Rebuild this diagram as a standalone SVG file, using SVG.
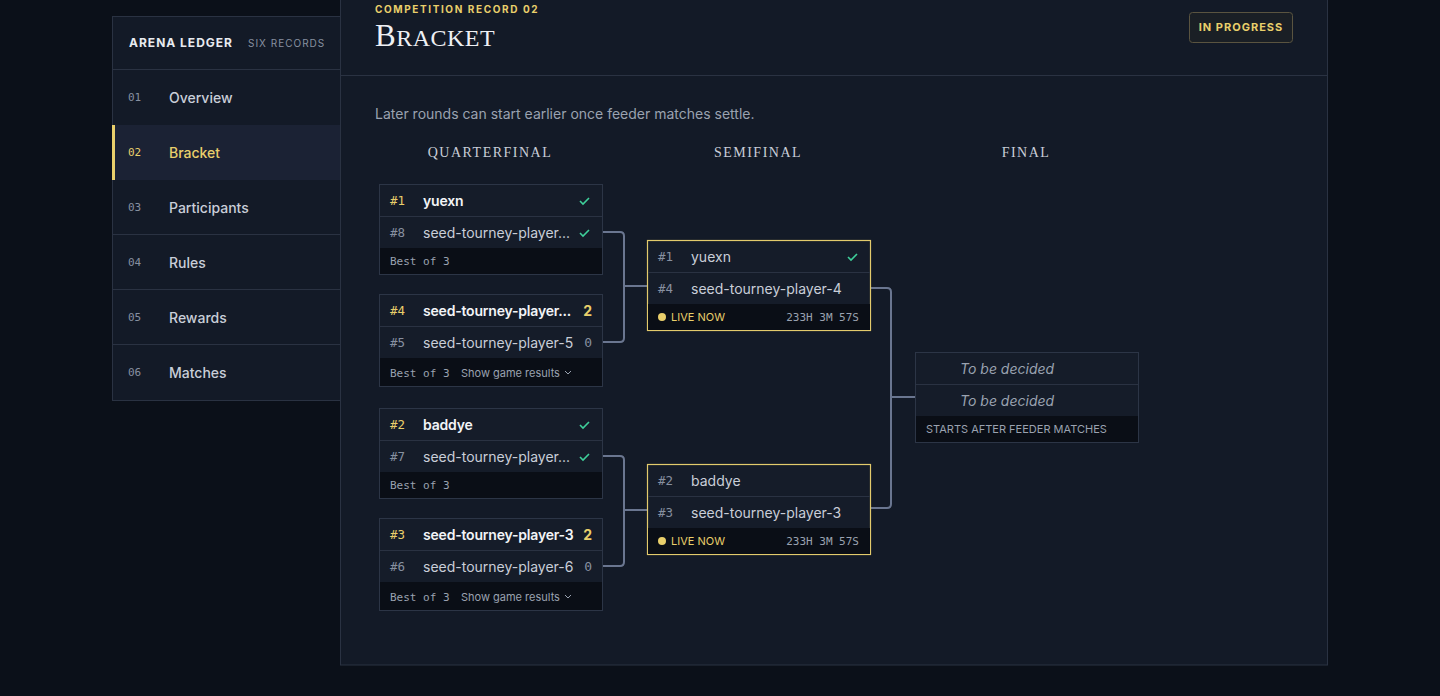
<svg xmlns="http://www.w3.org/2000/svg" width="1440" height="696" viewBox="0 0 1440 696">
<style>
.s{font-family:Inter,"Noto Sans",sans-serif}
.m{font-family:"DejaVu Sans Mono","Liberation Mono",monospace}
.r{font-family:"Liberation Serif",serif}
.card{fill:#151c29;stroke:#2c3546;stroke-width:1}
.sf{fill:#151c29;stroke:#e3cb6c;stroke-width:1.2}
.foot{fill:#0a0e16}
.div{stroke:#2a3242;stroke-width:1}
.seed{font-size:12.5px;fill:#8790a0}
.gold{fill:#e9cf6b}
.nm{font-size:14px;fill:#c9ced8}
.nmb{font-size:14px;fill:#f2f4f7;font-weight:600;letter-spacing:-0.2px}
.ft{font-size:11px;fill:#9aa2b0}
.chk{fill:none;stroke:#3ecf9a;stroke-width:1.6}
.con{fill:none;stroke:#6a7690;stroke-width:2}
.nav{font-size:14px;fill:#c9ced8;font-weight:500}
.num{font-size:11px;fill:#8790a0}
.rnd{font-size:14px;fill:#c9ced8;letter-spacing:1.5px}
</style>
<rect width="1440" height="696" fill="#0b1019"/>
<g id="sidebar">
<rect x="112.5" y="16.5" width="228" height="384" fill="#131a27" stroke="#2a3242"/>
<text x="129" y="47" class="s" font-size="12" font-weight="700" fill="#e8ebf0" letter-spacing="1">ARENA LEDGER</text>
<text x="248" y="47" class="s" font-size="10" fill="#8790a0" letter-spacing="1">SIX RECORDS</text>
<line x1="113" y1="69.5" x2="340" y2="69.5" class="div"/>
<rect x="113" y="125" width="227" height="55" fill="#1b2234"/>
<rect x="112" y="125" width="3" height="55" fill="#e9cf6b"/>
<line x1="113" y1="234.5" x2="340" y2="234.5" class="div"/>
<line x1="113" y1="289.5" x2="340" y2="289.5" class="div"/>
<line x1="113" y1="344.5" x2="340" y2="344.5" class="div"/>
<text x="128" y="101" class="m num">01</text><text x="169" y="103" class="s nav">Overview</text>
<text x="128" y="156" class="m num" style="fill:#e9cf6b">02</text><text x="169" y="158" class="s nav" style="fill:#e9cf6b">Bracket</text>
<text x="128" y="211" class="m num">03</text><text x="169" y="213" class="s nav">Participants</text>
<text x="128" y="266" class="m num">04</text><text x="169" y="268" class="s nav">Rules</text>
<text x="128" y="321" class="m num">05</text><text x="169" y="323" class="s nav">Rewards</text>
<text x="128" y="376" class="m num">06</text><text x="169" y="378" class="s nav">Matches</text>
</g>
<g id="main">
<rect x="340.5" y="-1" width="987" height="666" fill="#131a27" stroke="#2a3242"/>
<line x1="341" y1="75.5" x2="1327" y2="75.5" class="div"/>
<text x="375" y="13" class="s" font-size="10" font-weight="700" fill="#e9cf6b" letter-spacing="1.6">COMPETITION RECORD 02</text>
<text x="375" y="46" class="r" font-size="31" fill="#eef0f4" letter-spacing="0.5">B<tspan font-size="24">RACKET</tspan></text>
<rect x="1189.5" y="12.5" width="103" height="30" rx="3" fill="#1a1f25" stroke="#5a5440"/>
<text x="1241" y="31" class="s" font-size="11" font-weight="700" fill="#e9cf6b" letter-spacing="1" text-anchor="middle">IN PROGRESS</text>
<text x="375" y="119" class="s" font-size="14" fill="#9aa2b0">Later rounds can start earlier once feeder matches settle.</text>
<text x="490" y="157" class="r rnd" text-anchor="middle">QUARTERFINAL</text>
<text x="758" y="157" class="r rnd" text-anchor="middle">SEMIFINAL</text>
<text x="1026" y="157" class="r rnd" text-anchor="middle">FINAL</text>
</g>
<g id="connectors">
<path class="con" d="M602 232 H620 Q624 232 624 236 V338 Q624 342 620 342 H602"/>
<path class="con" d="M624 286 H647"/>
<path class="con" d="M602 456 H620 Q624 456 624 460 V562 Q624 566 620 566 H602"/>
<path class="con" d="M624 510 H647"/>
<path class="con" d="M870 288 H887 Q891 288 891 292 V504 Q891 508 887 508 H870"/>
<path class="con" d="M891 397 H915"/>
</g>
<g id="qf1">
<rect x="379.5" y="184.5" width="223" height="90" class="card"/>
<rect x="380" y="248" width="222" height="26" class="foot"/>
<line x1="380" y1="216.5" x2="602" y2="216.5" class="div"/>
<text x="390" y="205" class="m seed" style="fill:#e9cf6b">#1</text><text x="423" y="206" class="s nmb">yuexn</text>
<path class="chk" d="M580 201 l3 3 l6 -6"/>
<text x="390" y="237" class="m seed">#8</text><text x="423" y="238" class="s nm">seed-tourney-player...</text>
<path class="chk" d="M580 233 l3 3 l6 -6"/>
<text x="390" y="265" class="m ft">Best of 3</text>
</g>
<g id="qf2">
<rect x="379.5" y="294.5" width="223" height="92" class="card"/>
<rect x="380" y="358" width="222" height="28" class="foot"/>
<line x1="380" y1="326.5" x2="602" y2="326.5" class="div"/>
<text x="390" y="315" class="m seed" style="fill:#e9cf6b">#4</text><text x="423" y="316" class="s nmb">seed-tourney-player...</text>
<text x="592" y="316" class="s" font-size="14" font-weight="700" fill="#e9cf6b" text-anchor="end">2</text>
<text x="390" y="347" class="m seed">#5</text><text x="423" y="348" class="s nm">seed-tourney-player-5</text>
<text x="592" y="347" class="m" font-size="13" fill="#8790a0" text-anchor="end">0</text>
<text x="390" y="377" class="m ft">Best of 3</text>
<text x="461" y="377" class="s" font-size="11" fill="#9aa2b0">Show game results</text>
<path d="M565 371 l3 3 l3 -3" fill="none" stroke="#9aa2b0"/>
</g>
<g id="qf3">
<rect x="379.5" y="408.5" width="223" height="90" class="card"/>
<rect x="380" y="472" width="222" height="26" class="foot"/>
<line x1="380" y1="440.5" x2="602" y2="440.5" class="div"/>
<text x="390" y="429" class="m seed" style="fill:#e9cf6b">#2</text><text x="423" y="430" class="s nmb">baddye</text>
<path class="chk" d="M580 425 l3 3 l6 -6"/>
<text x="390" y="461" class="m seed">#7</text><text x="423" y="462" class="s nm">seed-tourney-player...</text>
<path class="chk" d="M580 457 l3 3 l6 -6"/>
<text x="390" y="489" class="m ft">Best of 3</text>
</g>
<g id="qf4">
<rect x="379.5" y="518.5" width="223" height="92" class="card"/>
<rect x="380" y="582" width="222" height="28" class="foot"/>
<line x1="380" y1="550.5" x2="602" y2="550.5" class="div"/>
<text x="390" y="539" class="m seed" style="fill:#e9cf6b">#3</text><text x="423" y="540" class="s nmb">seed-tourney-player-3</text>
<text x="592" y="540" class="s" font-size="14" font-weight="700" fill="#e9cf6b" text-anchor="end">2</text>
<text x="390" y="571" class="m seed">#6</text><text x="423" y="572" class="s nm">seed-tourney-player-6</text>
<text x="592" y="571" class="m" font-size="13" fill="#8790a0" text-anchor="end">0</text>
<text x="390" y="601" class="m ft">Best of 3</text>
<text x="461" y="601" class="s" font-size="11" fill="#9aa2b0">Show game results</text>
<path d="M565 595 l3 3 l3 -3" fill="none" stroke="#9aa2b0"/>
</g>
<g id="sf1">
<rect x="647.5" y="240.5" width="223" height="90" class="sf"/>
<rect x="648" y="304" width="222" height="26" class="foot"/>
<line x1="648" y1="272.5" x2="870" y2="272.5" class="div"/>
<text x="658" y="261" class="m seed">#1</text><text x="691" y="262" class="s nm">yuexn</text>
<path class="chk" d="M848 257 l3 3 l6 -6"/>
<text x="658" y="293" class="m seed">#4</text><text x="691" y="294" class="s nm">seed-tourney-player-4</text>
<circle cx="662" cy="317" r="4" fill="#e9cf6b"/>
<text x="671" y="321" class="s" font-size="11" fill="#e9cf6b">LIVE NOW</text>
<text x="859" y="321" class="m ft" text-anchor="end">233H 3M 57S</text>
</g>
<g id="sf2">
<rect x="647.5" y="464.5" width="223" height="90" class="sf"/>
<rect x="648" y="528" width="222" height="26" class="foot"/>
<line x1="648" y1="496.5" x2="870" y2="496.5" class="div"/>
<text x="658" y="485" class="m seed">#2</text><text x="691" y="486" class="s nm">baddye</text>
<text x="658" y="517" class="m seed">#3</text><text x="691" y="518" class="s nm">seed-tourney-player-3</text>
<circle cx="662" cy="541" r="4" fill="#e9cf6b"/>
<text x="671" y="545" class="s" font-size="11" fill="#e9cf6b">LIVE NOW</text>
<text x="859" y="545" class="m ft" text-anchor="end">233H 3M 57S</text>
</g>
<g id="final">
<rect x="915.5" y="352.5" width="223" height="90" class="card"/>
<rect x="916" y="416" width="222" height="26" class="foot"/>
<line x1="916" y1="384.5" x2="1138" y2="384.5" class="div"/>
<text x="960" y="374" class="s" font-size="14" font-style="italic" fill="#9aa2b0">To be decided</text>
<text x="960" y="406" class="s" font-size="14" font-style="italic" fill="#9aa2b0">To be decided</text>
<text x="926" y="433" class="s" font-size="11" fill="#9aa2b0">STARTS AFTER FEEDER MATCHES</text>
</g>
</svg>
